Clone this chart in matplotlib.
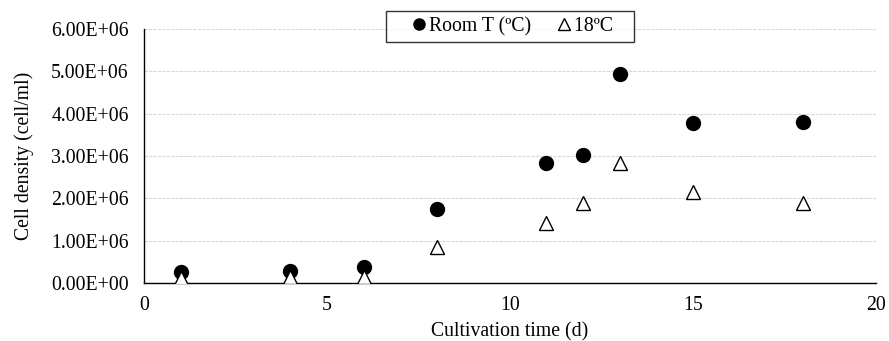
import matplotlib
matplotlib.use("Agg")
import matplotlib.pyplot as plt
from matplotlib.ticker import FuncFormatter

days = [1, 4, 6, 8, 11, 12, 13, 15, 18]
room_t = [2.5e5, 2.8e5, 3.7e5, 1.75e6, 2.83e6, 3.03e6, 4.93e6, 3.78e6, 3.80e6]
t18 = [1.2e5, 1.4e5, 1.5e5, 0.86e6, 1.42e6, 1.89e6, 2.84e6, 2.15e6, 1.89e6]

plt.rcParams['font.family'] = ['Liberation Serif', 'DejaVu Serif']
fs = 14.2

fig = plt.figure(figsize=(8.89, 3.41), dpi=100)
ax = fig.add_axes([0.162, 0.170, 0.823, 0.745])

ax.plot(days, room_t, linestyle='none', marker='o', markersize=10,
        color='black', markerfacecolor='black', label='Room T (ºC)', zorder=3)
ax.plot(days, t18, linestyle='none', marker='^', markersize=10.5,
        markerfacecolor='white', markeredgecolor='black', markeredgewidth=1.0,
        label='18ºC', zorder=3)

ax.set_xlim(0, 20)
ax.set_ylim(0, 6e6)
ax.set_xticks([0, 5, 10, 15, 20])
ax.set_yticks([0, 1e6, 2e6, 3e6, 4e6, 5e6, 6e6])
ax.yaxis.set_major_formatter(FuncFormatter(lambda v, p: f"{v:.2E}"))
ax.grid(axis='y', color='#d9d9d9', linestyle=(0, (3, 1)), linewidth=0.8)
ax.set_axisbelow(True)
for s in ['top', 'right']:
    ax.spines[s].set_visible(False)
for s in ['left', 'bottom']:
    ax.spines[s].set_color('black')
    ax.spines[s].set_linewidth(1.0)
ax.tick_params(axis='y', length=0, labelsize=fs, colors='black', pad=11)
ax.tick_params(axis='x', length=0, labelsize=fs, colors='black', pad=9)
ax.set_xlabel('Cultivation time (d)', fontsize=fs, labelpad=5.5)
ax.set_ylabel('Cell density (cell/ml)', fontsize=fs, labelpad=12)

handles, labels = ax.get_legend_handles_labels()
labels = [labels[0], labels[1] + '   ']
leg = ax.legend(handles, labels, loc='upper center', bbox_to_anchor=(0.5, 1.11), ncol=2,
                frameon=True, fancybox=False, edgecolor='black', fontsize=fs,
                handletextpad=-0.86, columnspacing=0.3, borderpad=0.3,
                handlelength=2.74, markerscale=0.8)
leg.get_frame().set_linewidth(1.0)

fig.savefig('out.png', dpi=100)
